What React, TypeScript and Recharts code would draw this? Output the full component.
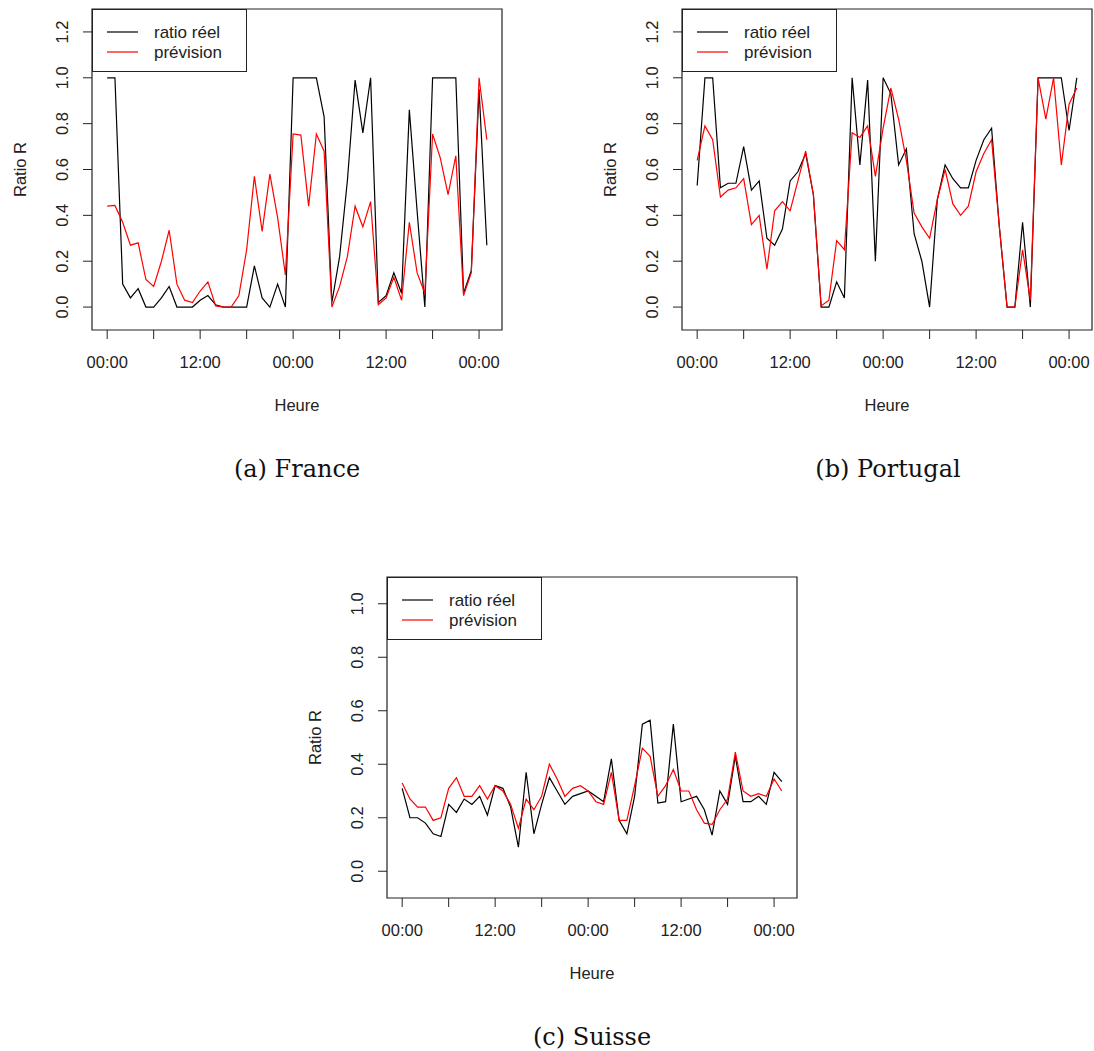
import { LineChart, Line, XAxis, YAxis, ReferenceArea } from "recharts";

// hourly ratio, 50 points from 00:00 day 1 to 01:00 day 3
const franceReel = [
  1.0, 1.0, 0.1, 0.04, 0.08, 0, 0, 0.04, 0.09, 0, 0, 0, 0.03, 0.05, 0.01, 0, 0, 0, 0, 0.18, 0.04, 0, 0.1, 0, 1.0,
  1.0, 1.0, 1.0, 0.83, 0.02, 0.22, 0.55, 0.99, 0.76, 1.0, 0.02, 0.05, 0.15, 0.06, 0.86, 0.42, 0, 1.0, 1.0, 1.0, 1.0,
  0.06, 0.16, 0.95, 0.27,
];
const francePrev = [
  0.44, 0.443, 0.37, 0.27, 0.28, 0.12, 0.09, 0.2, 0.335, 0.1, 0.03, 0.02, 0.07, 0.11, 0.005, 0, 0, 0.05, 0.25,
  0.57, 0.33, 0.58, 0.39, 0.14, 0.755, 0.75, 0.44, 0.755, 0.68, 0, 0.09, 0.22, 0.44, 0.35, 0.46, 0.01, 0.04, 0.13,
  0.03, 0.37, 0.15, 0.06, 0.755, 0.65, 0.49, 0.66, 0.05, 0.15, 1.0, 0.73,
];

const portugalReel = [
  0.53, 1.0, 1.0, 0.52, 0.54, 0.54, 0.7, 0.51, 0.55, 0.3, 0.27, 0.34, 0.55, 0.59, 0.67, 0.49, 0, 0, 0.11, 0.04, 1.0,
  0.62, 0.99, 0.2, 1.0, 0.93, 0.62, 0.69, 0.32, 0.2, 0, 0.47, 0.62, 0.56, 0.52, 0.52, 0.64, 0.73, 0.78, 0.35, 0, 0,
  0.37, 0, 1.0, 1.0, 1.0, 1.0, 0.77, 1.0,
];
const portugalPrev = [
  0.64, 0.79, 0.73, 0.48, 0.51, 0.52, 0.56, 0.36, 0.4, 0.165, 0.42, 0.46, 0.42, 0.55, 0.68, 0.49, 0.005, 0.03, 0.29,
  0.25, 0.76, 0.74, 0.79, 0.57, 0.78, 0.955, 0.82, 0.64, 0.41, 0.35, 0.3, 0.47, 0.6, 0.45, 0.4, 0.44, 0.59, 0.67,
  0.73, 0.35, 0, 0, 0.25, 0.03, 1.0, 0.82, 1.0, 0.62, 0.885, 0.955,
];

const suisseReel = [
  0.31, 0.2, 0.2, 0.18, 0.14, 0.13, 0.25, 0.22, 0.27, 0.25, 0.28, 0.21, 0.32, 0.31, 0.24, 0.09, 0.37, 0.14, 0.25,
  0.35, 0.3, 0.25, 0.28, 0.29, 0.3, 0.28, 0.26, 0.42, 0.19, 0.14, 0.28, 0.55, 0.565, 0.255, 0.26, 0.55, 0.26, 0.27,
  0.28, 0.23, 0.135, 0.3, 0.25, 0.43, 0.26, 0.26, 0.28, 0.25, 0.37, 0.335,
];
const suissePrev = [
  0.33, 0.27, 0.24, 0.24, 0.19, 0.2, 0.31, 0.35, 0.28, 0.28, 0.32, 0.27, 0.32, 0.3, 0.25, 0.16, 0.27, 0.23, 0.28,
  0.4, 0.345, 0.28, 0.31, 0.32, 0.3, 0.26, 0.25, 0.37, 0.19, 0.19, 0.32, 0.46, 0.43, 0.28, 0.32, 0.38, 0.3, 0.3,
  0.23, 0.18, 0.175, 0.23, 0.27, 0.445, 0.3, 0.28, 0.29, 0.28, 0.345, 0.3,
];

const hourTicks = [0, 6, 12, 18, 24, 30, 36, 42, 48];
const yTicksTall = [0, 0.2, 0.4, 0.6, 0.8, 1.0, 1.2];
const yTicksShort = [0, 0.2, 0.4, 0.6, 0.8, 1.0];
const legendNames = ["ratio réel", "prévision"];

const SANS = "'Liberation Sans', Arial, sans-serif";
const SERIF = "'DejaVu Serif', serif";
const INK = "#222";
const X_DOMAIN = [-1.96, 50.96];

const formatHour = (v: number) => (v % 24 === 0 ? "00:00" : v % 24 === 12 ? "12:00" : "");

const YTick = (props: any) => {
  const { x, y, payload } = props;
  const cx = x - 21;
  return (
    <text
      x={cx}
      y={y}
      transform={`rotate(-90, ${cx}, ${y})`}
      textAnchor="middle"
      dominantBaseline="central"
      fontSize={16.5}
      fontFamily={SANS}
      fill={INK}
    >
      {Number(payload.value).toFixed(1)}
    </text>
  );
};

const LegendBox = ({ left, top }: { left: number; top: number }) => (
  <div
    style={{
      position: "absolute",
      left,
      top,
      width: 155,
      height: 63,
      border: `1px solid ${INK}`,
      background: "#fff",
      boxSizing: "border-box",
    }}
  >
    <svg width={155} height={63} style={{ position: "absolute", left: -1, top: -1 }}>
      {legendNames.map((name, i) => (
        <g key={name}>
          <line x1={15} x2={46} y1={23 + i * 20} y2={23 + i * 20} stroke={i === 0 ? "#000" : "#ff0000"} strokeWidth={1.2} />
          <text x={62} y={23 + i * 20} dominantBaseline="central" fontSize={17} fontFamily={SANS} fill={INK}>
            {name}
          </text>
        </g>
      ))}
    </svg>
  </div>
);

type PanelProps = {
  left: number;
  top: number;
  width: number;
  reel: number[];
  prev: number[];
  yMax: number;
  yTicks: number[];
};

function Panel({ left, top, width, reel, prev, yMax, yTicks }: PanelProps) {
  const data = reel.map((r, i) => ({ h: i, reel: r, prev: prev[i] }));
  return (
    <div style={{ position: "absolute", left, top }}>
      <LineChart width={width} height={420} data={data} margin={{ top: 9, right: width - 92 - 410, left: 0, bottom: 0 }}>
        <XAxis
          dataKey="h"
          type="number"
          domain={X_DOMAIN}
          allowDataOverflow
          ticks={hourTicks}
          interval={0}
          tickFormatter={formatHour}
          axisLine={false}
          tickSize={9}
          tickMargin={17}
          tickLine={{ stroke: INK }}
          tick={{ fontSize: 16.5, fontFamily: SANS, fill: INK }}
          height={90}
          label={{
            content: (p: any) => (
              <text
                x={p.viewBox.x + p.viewBox.width / 2}
                y={p.viewBox.y + 75}
                textAnchor="middle"
                dominantBaseline="central"
                fontSize={16.5}
                fontFamily={SANS}
                fill={INK}
              >
                Heure
              </text>
            ),
          }}
        />
        <YAxis
          type="number"
          domain={[-0.1, yMax]}
          allowDataOverflow
          ticks={yTicks}
          interval={0}
          axisLine={false}
          tickSize={9}
          tickMargin={0}
          tickLine={{ stroke: INK }}
          tick={<YTick />}
          width={92}
          label={{
            content: (p: any) => {
              const cx = p.viewBox.x + 20;
              const cy = p.viewBox.y + p.viewBox.height / 2;
              return (
                <text
                  x={cx}
                  y={cy}
                  transform={`rotate(-90, ${cx}, ${cy})`}
                  textAnchor="middle"
                  dominantBaseline="central"
                  fontSize={16.5}
                  fontFamily={SANS}
                  fill={INK}
                >
                  Ratio R
                </text>
              );
            },
          }}
        />
        <ReferenceArea
          x1={X_DOMAIN[0]}
          x2={X_DOMAIN[1]}
          y1={-0.1}
          y2={yMax}
          fill="none"
          stroke={INK}
          strokeWidth={1.2}
          ifOverflow="visible"
        />
        <Line type="linear" dataKey="reel" stroke="#000" strokeWidth={1.2} dot={false} isAnimationActive={false} />
        <Line type="linear" dataKey="prev" stroke="#ff0000" strokeWidth={1.2} dot={false} isAnimationActive={false} />
      </LineChart>
      <LegendBox left={92} top={9} />
    </div>
  );
}

const Caption = ({ cx, cy, text }: { cx: number; cy: number; text: string }) => (
  <div
    style={{
      position: "absolute",
      left: cx - 150,
      top: cy - 16,
      width: 300,
      height: 32,
      lineHeight: "32px",
      textAlign: "center",
      fontFamily: SERIF,
      fontSize: 24,
      color: "#111",
    }}
  >
    {text}
  </div>
);

export default function App() {
  return (
    <div style={{ position: "absolute", left: 0, top: 0, width: 1094, height: 1051, background: "#fff" }}>
      <Panel left={0} top={0} width={560} reel={franceReel} prev={francePrev} yMax={1.3} yTicks={yTicksTall} />
      <Panel left={590} top={0} width={504} reel={portugalReel} prev={portugalPrev} yMax={1.3} yTicks={yTicksTall} />
      <Panel left={295} top={568} width={520} reel={suisseReel} prev={suissePrev} yMax={1.1} yTicks={yTicksShort} />
      <Caption cx={297} cy={469} text="(a) France" />
      <Caption cx={888} cy={469} text="(b) Portugal" />
      <Caption cx={592} cy={1037} text="(c) Suisse" />
    </div>
  );
}
